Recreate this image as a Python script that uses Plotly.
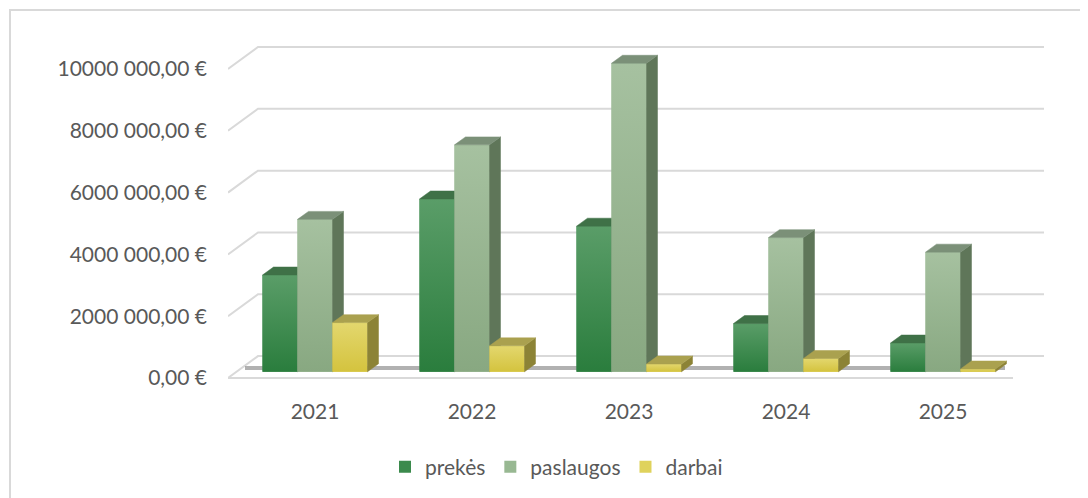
import plotly.graph_objects as go

# ---------------- data ----------------
years = ["2021", "2022", "2023", "2024", "2025"]
series_names = ["prekės", "paslaugos", "darbai"]
prekes = [3130000, 5590000, 4710000, 1560000, 930000]
paslaugos = [4930000, 7340000, 9980000, 4340000, 3870000]
darbai = [1590000, 840000, 250000, 430000, 90000]
tick_values = [0, 2000000, 4000000, 6000000, 8000000, 10000000]
tick_labels = ["0,00 €", "2000 000,00 €", "4000 000,00 €", "6000 000,00 €",
               "8000 000,00 €", "10000 000,00 €"]

series_values = [prekes, paslaugos, darbai]
front_colors = ["#3b8a4c", "#98b892", "#dfd25c"]
front_top = ["#5a9d68", "#a6c1a0", "#e3d76e"]
front_bottom = ["#2a7d3d", "#88a881", "#d4c33e"]
top_colors = ["#3f7147", "#7b9078", "#aaa14f"]
side_colors = ["#356840", "#5f7659", "#8c8336"]

# ---------------- geometry (pixel-calibrated axis ranges) ----------------
OFF = 8  # default page body margin
W, H = 1088 - OFF, 498 - OFF
L_PX, R_PX, T_PX, B_PX = 228, 1044, 40, 398
CAT0_PX, CAT_STEP_PX = 315, 157
PX_PER_M = 31.0
FRONT0_PX = 379.0   # front-plane zero (labels)
BAR0_PX = 372.7     # bar baseline
BACK0_PX = 357.0    # back-wall zero


def xv(px):
    return (px - CAT0_PX) / CAT_STEP_PX


x_range = [xv(L_PX), xv(R_PX)]
label_range = [-(B_PX - FRONT0_PX) / PX_PER_M * 1e6, (FRONT0_PX - T_PX) / PX_PER_M * 1e6]
bar_range = [-(B_PX - BAR0_PX) / PX_PER_M * 1e6, (BAR0_PX - T_PX) / PX_PER_M * 1e6]
back_offset = (FRONT0_PX - BACK0_PX) / PX_PER_M * 1e6

bw = 35 / CAT_STEP_PX          # bar width in category units
ddx = 11 / CAT_STEP_PX          # depth offset x
ddy = 8 / PX_PER_M * 1e6        # depth offset y (euros on bar axis)

fig = go.Figure()

# floor shadow (main subplot, under all bars)
fig.add_trace(go.Scatter(
    x=[xv(245), xv(1005)], y=[(FRONT0_PX - 369) / PX_PER_M * 1e6] * 2,
    mode="lines", line=dict(color="rgba(50,50,50,0.38)", width=4),
    hoverinfo="skip", showlegend=False, xaxis="x", yaxis="y"))

for k, (name, vals) in enumerate(zip(series_names, series_values)):
    yax = "y%d" % (k + 2)
    centers = [i + (k - 1) * bw for i in range(len(years))]
    fig.add_trace(go.Bar(
        x=centers, y=vals, width=bw, name=name,
        marker=dict(color=front_colors[k], line=dict(width=0)),
        xaxis="x", yaxis=yax, showlegend=True))
    sx, sy, tx, ty = [], [], [], []
    for c, v in zip(centers, vals):
        x0, x1 = c - bw / 2, c + bw / 2
        sx += [x1, x1 + ddx, x1 + ddx, x1, x1, None]
        sy += [0, ddy, v + ddy, v, 0, None]
        tx += [x0, x1, x1 + ddx, x0 + ddx, x0, None]
        ty += [v, v, v + ddy, v + ddy, v, None]
        # vertical shading of the bar's front face
        fig.add_trace(go.Scatter(
            x=[x0, x1, x1, x0, x0], y=[0, 0, v, v, 0], mode="lines",
            fill="toself", line=dict(width=0, color=front_colors[k]),
            fillgradient=dict(type="vertical", start=0, stop=v,
                              colorscale=[[0, front_bottom[k]], [1, front_top[k]]]),
            hoverinfo="skip", showlegend=False, xaxis="x", yaxis=yax))
    fig.add_trace(go.Scatter(
        x=sx, y=sy, mode="lines", fill="toself", fillcolor=side_colors[k],
        line=dict(color=side_colors[k], width=0.5),
        hoverinfo="skip", showlegend=False, xaxis="x", yaxis=yax))
    fig.add_trace(go.Scatter(
        x=tx, y=ty, mode="lines", fill="toself", fillcolor=top_colors[k],
        line=dict(color=top_colors[k], width=0.5),
        hoverinfo="skip", showlegend=False, xaxis="x", yaxis=yax))

# gridlines: front diagonal + back wall
shapes = []
grid_col = "#d9d9d9"
for v in tick_values:
    yb = v + back_offset
    shapes.append(dict(
        type="path", xref="x", yref="y", layer="below",
        path="M %f,%f L %f,%f L %f,%f" % (xv(L_PX), v, xv(258), yb, xv(R_PX), yb),
        line=dict(color=grid_col, width=2)))
shapes.append(dict(type="line", xref="x", yref="y", layer="below",
                   x0=xv(L_PX), y0=0, x1=xv(1013), y1=0,
                   line=dict(color=grid_col, width=2)))
# chart border
shapes.append(dict(type="rect", xref="paper", yref="paper",
                   x0=(10 - L_PX) / (R_PX - L_PX), x1=(1100 - L_PX) / (R_PX - L_PX),
                   y0=(B_PX - 510) / (B_PX - T_PX), y1=(B_PX - 10) / (B_PX - T_PX),
                   line=dict(color="#d9d9d9", width=2), fillcolor="rgba(0,0,0,0)"))

font_family = "Lato, Open Sans, sans-serif"
txt_col = "#595959"
fs = 21

bar_axis = dict(range=bar_range, visible=False, showgrid=False, zeroline=False,
                overlaying="y", anchor="x", fixedrange=True)

fig.update_layout(
    width=W, height=H,
    margin=dict(l=L_PX - OFF, r=W - (R_PX - OFF), t=T_PX - OFF, b=H - (B_PX - OFF), pad=0),
    paper_bgcolor="white", plot_bgcolor="rgba(0,0,0,0)",
    barmode="overlay",
    font=dict(family=font_family, size=fs, color=txt_col),
    xaxis=dict(range=x_range, tickvals=list(range(len(years))), ticktext=years,
               showgrid=False, zeroline=False, showline=False, ticks="",
               ticklabelstandoff=0, tickfont=dict(size=fs, color=txt_col)),
    yaxis=dict(range=label_range, tickvals=tick_values, ticktext=tick_labels,
               showgrid=False, zeroline=False, showline=False, ticks="",
               ticklabelstandoff=20, tickfont=dict(size=fs, color=txt_col)),
    yaxis2=bar_axis, yaxis3=bar_axis, yaxis4=bar_axis,
    shapes=shapes,
    showlegend=True,
    legend=dict(orientation="h", x=(385 - L_PX) / (R_PX - L_PX), xanchor="left",
                y=(B_PX - 467) / (B_PX - T_PX), yanchor="middle",
                font=dict(size=fs, color=txt_col), traceorder="normal",
                bgcolor="rgba(0,0,0,0)"),
)

fig.write_html("out.html")
